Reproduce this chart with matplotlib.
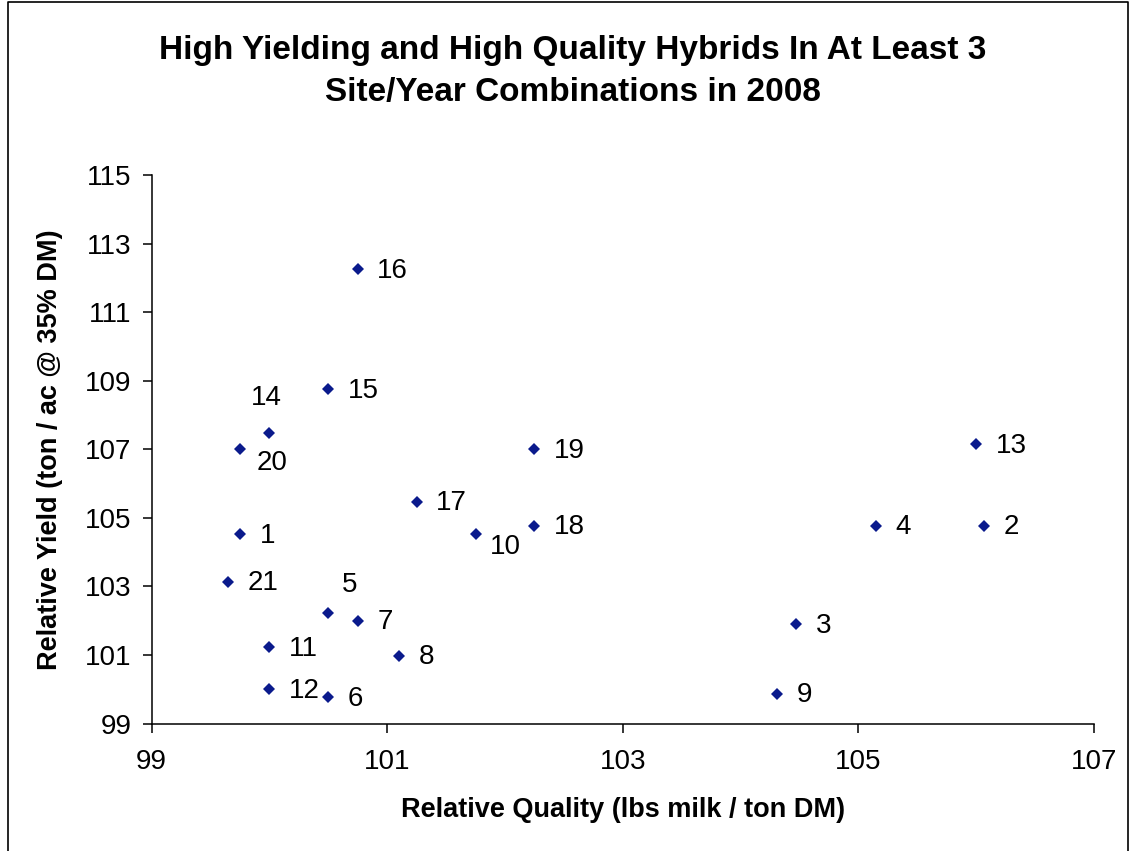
import numpy as np
import matplotlib.pyplot as plt
from matplotlib.lines import Line2D

plt.rcParams['font.family'] = ['Liberation Sans', 'DejaVu Sans']

# hybrid number, relative quality (x), relative yield (y)
hybrids = np.arange(1, 22)
quality = [99.75, 106.07, 104.47, 105.15, 100.5, 100.5, 100.75, 101.1, 104.31, 101.75,
           100.0, 100.0, 106.0, 100.0, 100.5, 100.75, 101.25, 102.25, 102.25, 99.75, 99.65]
yld = [104.52, 104.77, 101.89, 104.77, 102.23, 99.76, 101.99, 100.98, 99.86, 104.52,
       101.22, 100.0, 107.14, 107.48, 108.75, 112.25, 105.47, 104.77, 107.0, 107.0, 103.14]

xticks = [99, 101, 103, 105, 107]
yticks = [99, 101, 103, 105, 107, 109, 111, 113, 115]

# label placement (points) for the few labels not sitting to the right
offsets = {14: (-2, 25, 'center'), 20: (12, -10, 'left'), 10: (10, -9, 'left'), 5: (10, 20, 'left')}

fig = plt.figure(figsize=(11.3, 8.51), dpi=100)
ax = fig.add_axes([0.1342, 0.1498, 0.8339, 0.6445])

ax.plot(quality, yld, linestyle='none', marker='D', ms=6.4, mew=0, color='#0a1a8c', clip_on=False)

for n, x, y in zip(hybrids, quality, yld):
    dx, dy, ha = offsets.get(n, (14, -1, 'left'))
    ax.annotate(str(n), (x, y), xytext=(dx, dy), textcoords='offset points',
                ha=ha, va='center', fontsize=20, color='black')

ax.set_xlim(99, 107)
ax.set_ylim(99, 115)
ax.set_xticks(xticks)
ax.set_yticks(yticks)
ax.tick_params(direction='out', length=6.5, width=1.1, labelsize=20, color='black')
ax.tick_params(axis='x', pad=12)
ax.tick_params(axis='y', pad=8)
for s in ['top', 'right']:
    ax.spines[s].set_visible(False)
for s in ['left', 'bottom']:
    ax.spines[s].set_linewidth(1.1)

ax.set_xlabel('Relative Quality (lbs milk / ton DM)', fontsize=19.5, fontweight='bold', labelpad=16)
ax.set_ylabel('Relative Yield (ton / ac @ 35% DM)', fontsize=19.5, fontweight='bold', labelpad=16)

fig.text(0.507, 1 - 59 / 851, 'High Yielding and High Quality Hybrids In At Least 3',
         ha='center', va='baseline', fontsize=24, fontweight='bold')
fig.text(0.507, 1 - 101 / 851, 'Site/Year Combinations in 2008',
         ha='center', va='baseline', fontsize=24, fontweight='bold')

# chart area border
fig.add_artist(Line2D([0.007, 0.007, 0.998, 0.998], [0.0, 0.998, 0.998, 0.0],
                      transform=fig.transFigure, color='black', lw=1.2))

fig.savefig('out.png', dpi=100)
